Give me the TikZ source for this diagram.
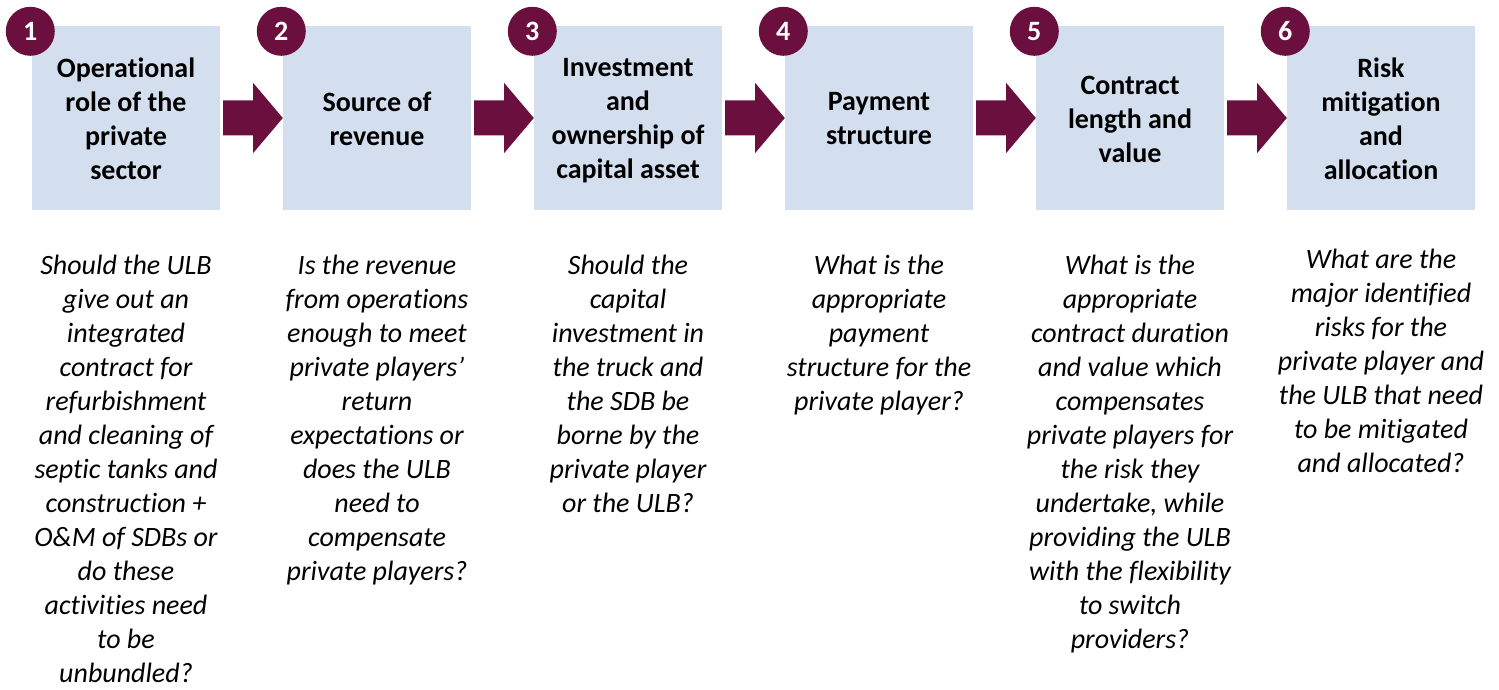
\documentclass[tikz,border=0pt]{standalone}
\usepackage{fontspec}
\setmainfont[Ligatures={NoCommon,NoContextual}]{Carlito}
\usetikzlibrary{calc}
\definecolor{boxblue}{RGB}{211,223,238}
\definecolor{maroon}{RGB}{106,15,62}
\begin{document}
\begin{tikzpicture}[x=1pt,y=-1pt,
  stepbox/.style={fill=boxblue, minimum width=188pt, minimum height=184pt, inner sep=0pt},
  titletext/.style={align=center, inner sep=0pt, font=\fontsize{28}{34}\selectfont\bfseries, execute at begin node=\strut, execute at end node=\strut},
  numdot/.style={circle, fill=maroon, minimum size=49pt, inner sep=0pt, text=white, font=\fontsize{28}{34}\selectfont\bfseries},
  question/.style={anchor=north, align=center, inner sep=0pt, font=\fontsize{28}{34}\selectfont\itshape},
  flow/.style={fill=maroon}]
\useasboundingbox (0,0) rectangle (1499,690);
\foreach \i/\x/\t in {1/126/{Operational\\role of the\\private\\sector},
                      2/377/{Source of\\revenue},
                      3/628/{Investment\\and\\ownership of\\capital asset},
                      4/879/{Payment\\structure},
                      5/1130/{Contract\\length and\\value},
                      6/1381/{Risk\\mitigation\\and\\allocation}}{
  \node[stepbox] (b\i) at (\x,118) {};
  \node[titletext] (t\i) at ($(b\i.center)+(0,6)$) {\t};
}
\foreach \i in {1,...,6}{
  \node[numdot] (n\i) at ($(b\i.north west)+(-1.5,5.5)$) {\i};
}
\foreach \i/\j in {1/2,2/3,3/4,4/5,5/6}{
  \fill[flow] ($(b\i.east)+(3,-17.5)$) -- ($(b\i.east)+(33,-17.5)$) -- ($(b\i.east)+(33,-35)$)
     -- (b\j.west) -- ($(b\i.east)+(33,35)$) -- ($(b\i.east)+(33,17.5)$) -- ($(b\i.east)+(3,17.5)$) -- cycle;
}
\node[question] (q1) at (126,255) {Should the ULB\\give out an\\integrated\\contract for\\refurbishment\\and cleaning of\\septic tanks and\\construction +\\O\&M of SDBs or\\do these\\activities need\\to be\\unbundled?};
\node[question] (q2) at (377,255) {Is the revenue\\from operations\\enough to meet\\private players’\\return\\expectations or\\does the ULB\\need to\\compensate\\private players?};
\node[question] (q3) at (628,255) {Should the\\capital\\investment in\\the truck and\\the SDB be\\borne by the\\private player\\or the ULB?};
\node[question] (q4) at (879,255) {What is the\\appropriate\\payment\\structure for the\\private player?};
\node[question] (q5) at (1130,255) {What is the\\appropriate\\contract duration\\and value which\\compensates\\private players for\\the risk they\\undertake, while\\providing the ULB\\with the flexibility\\to switch\\providers?};
\node[question] (q6) at (1381,249) {What are the\\major identified\\risks for the\\private player and\\the ULB that need\\to be mitigated\\and allocated?};
\end{tikzpicture}
\end{document}
